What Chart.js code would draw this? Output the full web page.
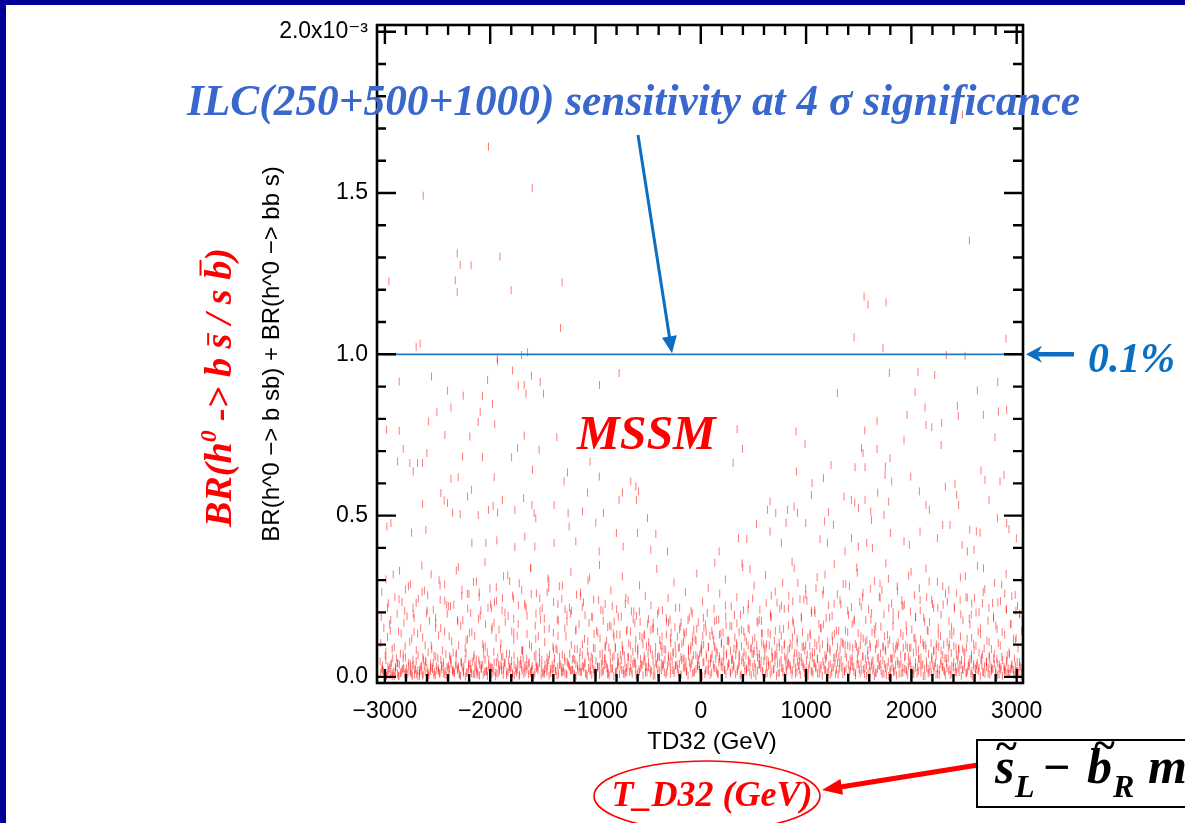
<!DOCTYPE html>
<html><head><meta charset="utf-8">
<script src="https://cdn.jsdelivr.net/npm/chart.js@4.4.0/dist/chart.umd.min.js"></script>
<style>
html,body{margin:0;padding:0;background:#fff;overflow:hidden}
#c{position:absolute;left:0;top:0}
</style></head><body>
<canvas id="c" width="1185" height="823"></canvas>
<script>
// ---------------- DATA (TD32 in GeV, BR in units of 1e-3) ----------------
const tailTD = [-2016,-2636,-1601,-2313,-2285,-2181,-1908,-2962,-2332,-2313,-1801,-1317,-1332,-2703,-2665,-1645,-1703,-1934,2551,1551,1589,1759,1456,2899,1731,2332,2510,2485];
const tailBR = [1.644,1.492,1.515,1.313,1.277,1.276,1.303,1.226,1.229,1.194,1.199,1.223,1.082,1.023,1.033,1.007,0.998,0.987,1.353,1.179,1.154,1.161,1.053,1.048,1.019,0.998,0.995,1.743];

const leftSparseTD = [-1930,-1788,-1608,-776,-2557,-2864,-2025,-1734,-1677,-1525,-962,-2405,-2256,-2073,-1494,-1660,-2373,-1978,-2506,-2095,-2585,-2114,-2984,-2864,-2430,-2193,-1677,-1956,-1367,-2826,-1740,-1535,-2601,-2262,-2073,-1797,-2880,-2763,-2690,-2642,-2731,-1051,-964,-1962,-1598,-2373,-2304,-1298,-1266,-665,-617,-592,-611,-2468,-2437,-2405,-2215,-2177,-2642,-2357,-2285,-2114,-2016,-1972,-1930,-1883,-1766,-1683,-1604,-1583,-1567,-1393,-1260,-1123,-1076,-997,-924,-776,-744,-506,-1250,-2981,-2943,-2611,-2747,-2174,-2041,-1937,-1766,-1671,-1576,-1393,-1187,-965,-801,-601,-427,-738,-475,-316];
const leftSparseBR = [.978,.950,.934,.942,.931,.916,.921,.903,.905,.914,.905,.887,.872,.872,.878,.878,.835,.847,.820,.821,.792,.790,.766,.763,.750,.745,.748,.783,.743,.707,.709,.704,.694,.683,.681,.681,.668,.663,.663,.663,.637,.668,.621,.619,.642,.614,.619,.606,.634,.606,.590,.575,.549,.570,.547,.539,.559,.580,.536,.509,.505,.502,.518,.530,.509,.549,.518,.554,.533,.508,.492,.533,.508,.513,.571,.478,.508,.549,.571,.492,.466,.466,.477,.456,.447,.415,.415,.423,.402,.435,.404,.415,.420,.389,.446,.446,.443,.404,.394,.389];

const rightSparseTD = [1791,2063,2222,2820,1298,2035,2627,2130,2437,2446,2826,2905,1959,2684,1674,2139,2193,2288,345,905,1557,2794,1930,990,1526,1541,1674,2282,396,307,1797,1237,1465,1560,1753,1750,908,1165,1813,1994,2661,2699,2842,2880,1057,2323,2414,2430,2076,1680,1361,1431,1462,1560,1785,2139,2171,2449,2737,658,633,712,823,886,918,997,1051,1174,1212,1260,1497,1614,1621,1740,529,658,810,2298,2367,2554,2617,2652,2817,2905,2927,2082,1801,358,437,766,1133,1203,1431,1497,1576,1630,1930,1981,2247,2481,2997,174,133,867,1370,2532,2595,392,468];
const rightSparseBR = [.942,.945,.936,.914,.880,.882,.888,.835,.840,.809,.823,.828,.812,.812,.794,.781,.774,.787,.768,.761,.764,.743,.733,.722,.709,.694,.707,.719,.707,.663,.678,.657,.650,.650,.652,.626,.637,.616,.606,.621,.640,.611,.606,.626,.601,.590,.598,.564,.575,.571,.559,.549,.540,.549,.543,.533,.518,.533,.549,.544,.518,.508,.518,.528,.509,.477,.564,.482,.511,.471,.523,.513,.487,.502,.474,.451,.477,.471,.471,.456,.451,.447,.492,.477,.458,.451,.446,.430,.427,.416,.427,.416,.430,.404,.415,.399,.420,.409,.430,.409,.430,.389,.354,.357,.389,.389,.394,.352,.334];

const bandLowTD = [
-3040,-3022,-3005,-2991,-2968,-2950,-2937,-2915,-2898,-2880,
-2862,-2845,-2826,-2810,-2795,-2772,-2756,-2741,-2720,-2703,
-2688,-2671,-2650,-2633,-2618,-2600,-2583,-2566,-2548,-2530,
-2512,-2497,-2480,-2461,-2445,-2428,-2410,-2392,-2377,-2359,
-2341,-2325,-2307,-2290,-2273,-2256,-2238,-2222,-2204,-2187,
-2170,-2151,-2135,-2118,-2100,-2084,-2066,-2049,-2031,-2014,
-1997,-1980,-1962,-1946,-1928,-1911,-1893,-1876,-1860,-1842,
-1825,-1808,-1790,-1773,-1755,-1739,-1721,-1704,-1687,-1669,
-1652,-1635,-1617,-1600,-1583,-1566,-1548,-1531,-1514,-1497,
-1480,-1462,-1445,-1428,-1410,-1393,-1376,-1358,-1341,-1324,
-1307,-1290,-1272,-1255,-1238,-1220,-1203,-1186,-1169,-1151,
-1134,-1117,-1100,-1082,-1065,-1048,-1031,-1013,-996,-979,
-962,-944,-927,-910,-893,-875,-858,-841,-824,-806,
-789,-772,-755,-737,-720,-703,-686,-668,-651,-634,
-617,-599,-582,-565,-548,-530,-513,-496,-479,-461,
-444,-427,-410,-392,-375,-358,-341,-323,-306,-289,
-272,-254,-237,-220,-203,-185,-168,-151,-134,-116,
-99,-82,-65,-47,-30,-13,4,21,38,56,
73,90,107,125,142,159,176,194,211,228,
245,263,280,297,314,332,349,366,383,401,
418,435,452,470,487,504,521,539,556,573,
590,608,625,642,659,677,694,711,728,746,
763,780,797,815,832,849,866,884,901,918,
935,953,970,987,1004,1022,1039,1056,1073,1091,
1108,1125,1142,1160,1177,1194,1211,1229,1246,1263,
1280,1298,1315,1332,1349,1367,1384,1401,1418,1436,
1453,1470,1487,1505,1522,1539,1556,1574,1591,1608,
1625,1643,1660,1677,1694,1712,1729,1746,1763,1781,
1798,1815,1832,1850,1867,1884,1901,1919,1936,1953,
1970,1988,2005,2022,2039,2057,2074,2091,2108,2126,
2143,2160,2177,2195,2212,2229,2246,2264,2281,2298,
2315,2333,2350,2367,2384,2402,2419,2436,2453,2471,
2488,2505,2522,2540,2557,2574,2591,2609,2626,2643,
2660,2678,2695,2712,2729,2747,2764,2781,2798,2816,
2833,2850,2867,2885,2902,2919,2936,2954,2971,2988,
3005,3022,3040,-2985,-2930,-2870,-2800,-2740,-2670,-2590];
const bandLowBR = [
.012,.035,.008,.052,.021,.006,.043,.017,.029,.010,
.038,.015,.057,.009,.026,.044,.013,.031,.007,.049,
.020,.011,.036,.054,.016,.027,.005,.041,.023,.014,
.033,.058,.010,.024,.046,.018,.030,.008,.051,.022,
.013,.039,.027,.006,.044,.019,.055,.012,.034,.024,
.047,.009,.031,.016,.040,.025,.007,.053,.019,.036,
.011,.028,.045,.014,.060,.022,.033,.006,.042,.017,
.050,.026,.010,.037,.019,.048,.008,.030,.055,.015,
.023,.041,.012,.034,.006,.046,.021,.057,.029,.010,
.038,.016,.052,.025,.009,.043,.018,.031,.062,.013,
.027,.048,.007,.036,.020,.054,.011,.040,.024,.058,
.015,.032,.045,.009,.063,.022,.038,.013,.050,.028,
.006,.041,.019,.056,.030,.012,.047,.025,.065,.017,
.036,.008,.052,.021,.043,.014,.060,.029,.010,.049,
.024,.067,.016,.039,.005,.055,.031,.046,.012,.070,
.027,.044,.009,.061,.020,.037,.053,.014,.066,.032,
.048,.011,.072,.025,.040,.007,.058,.034,.019,.064,
.029,.051,.013,.068,.036,.022,.075,.045,.009,.060,
.018,.041,.070,.027,.055,.011,.064,.033,.048,.021,
.073,.039,.015,.058,.030,.067,.024,.046,.008,.062,
.035,.019,.054,.043,.071,.012,.028,.060,.037,.050,
.016,.065,.031,.047,.009,.058,.024,.070,.040,.013,
.052,.027,.063,.019,.044,.034,.007,.057,.030,.046,
.021,.061,.038,.012,.050,.026,.066,.017,.042,.031,
.055,.010,.036,.048,.022,.063,.014,.040,.028,.058,
.009,.044,.025,.053,.033,.016,.060,.038,.020,.049,
.031,.012,.055,.023,.041,.062,.008,.035,.050,.018,
.045,.027,.011,.058,.034,.019,.052,.039,.006,.047,
.024,.056,.015,.037,.049,.010,.042,.028,.060,.017,
.033,.051,.021,.008,.045,.030,.057,.013,.039,.025,
.048,.011,.036,.054,.019,.043,.027,.006,.050,.032,
.016,.041,.058,.024,.009,.046,.030,.053,.014,.037,
.022,.049,.012,.035,.055,.018,.040,.007,.044,.028,
.051,.015,.033,.047,.010,.038,.025,.056,.019,.042,
.008,.030,.052,.017,.045,.026,.011,.040,.021,.034,
.046,.014,.029,.003,.002,.004,.001,.003,.002,.004];

const bandLow2TD = [
-3031,-3001,-2971,-2941,-2911,-2881,-2851,-2821,-2791,-2761,
-2731,-2701,-2671,-2641,-2611,-2581,-2551,-2521,-2491,-2461,
-2431,-2401,-2371,-2341,-2311,-2281,-2251,-2221,-2191,-2161,
-2131,-2101,-2071,-2041,-2011,-1981,-1951,-1921,-1891,-1861,
-1831,-1801,-1771,-1741,-1711,-1681,-1651,-1621,-1591,-1561,
-1531,-1501,-1471,-1441,-1411,-1381,-1351,-1321,-1291,-1261,
-1231,-1201,-1171,-1141,-1111,-1081,-1051,-1021,-991,-961,
-931,-901,-871,-841,-811,-781,-751,-721,-691,-661,
-631,-601,-571,-541,-511,-481,-451,-421,-391,-361,
-331,-301,-271,-241,-211,-181,-151,-121,-91,-61,
-31,-1,29,59,89,119,149,179,209,239,
269,299,329,359,389,419,449,479,509,539,
569,599,629,659,689,719,749,779,809,839,
869,899,929,959,989,1019,1049,1079,1109,1139,
1169,1199,1229,1259,1289,1319,1349,1379,1409,1439,
1469,1499,1529,1559,1589,1619,1649,1679,1709,1739,
1769,1799,1829,1859,1889,1919,1949,1979,2009,2039,
2069,2099,2129,2159,2189,2219,2249,2279,2309,2339,
2369,2399,2429,2459,2489,2519,2549,2579,2609,2639,
2669,2699,2729,2759,2789,2819,2849,2879,2909,2939,
2969,2999,3029,3049];
const bandLow2BR = [
.025,.004,.032,.016,.002,.041,.011,.027,.006,.019,
.037,.009,.022,.003,.044,.014,.030,.005,.018,.035,
.007,.026,.040,.012,.021,.003,.033,.015,.042,.008,
.024,.004,.038,.017,.029,.010,.002,.036,.020,.045,
.013,.031,.005,.023,.040,.009,.034,.018,.001,.027,
.043,.014,.026,.004,.037,.019,.008,.030,.012,.041,
.021,.006,.034,.016,.028,.003,.045,.024,.010,.032,
.017,.039,.004,.027,.013,.046,.022,.008,.035,.019,
.041,.011,.029,.048,.015,.024,.003,.038,.018,.031,
.007,.044,.021,.036,.013,.052,.027,.004,.040,.017,
.033,.012,.047,.024,.006,.038,.019,.055,.029,.010,
.043,.022,.008,.035,.051,.016,.030,.005,.040,.020,
.028,.049,.012,.037,.023,.004,.044,.015,.031,.039,
.020,.009,.034,.046,.027,.003,.018,.041,.011,.025,
.036,.014,.006,.030,.021,.042,.008,.026,.017,.033,
.004,.039,.019,.028,.012,.035,.002,.024,.040,.010,
.031,.016,.026,.005,.037,.013,.022,.043,.008,.029,
.018,.035,.003,.024,.014,.032,.009,.040,.020,.027,
.006,.030,.015,.038,.023,.011,.033,.002,.026,.019,
.036,.009,.028,.017,.041,.005,.022,.031,.013,.025,
.007,.019,.034,.011];

const bandLow3TD = [
-3045,-3021,-2997,-2973,-2949,-2925,-2901,-2877,-2853,-2829,
-2805,-2781,-2757,-2733,-2709,-2685,-2661,-2637,-2613,-2589,
-2565,-2541,-2517,-2493,-2469,-2445,-2421,-2397,-2373,-2349,
-2325,-2301,-2277,-2253,-2229,-2205,-2181,-2157,-2133,-2109,
-2085,-2061,-2037,-2013,-1989,-1965,-1941,-1917,-1893,-1869,
-1845,-1821,-1797,-1773,-1749,-1725,-1701,-1677,-1653,-1629,
-1605,-1581,-1557,-1533,-1509,-1485,-1461,-1437,-1413,-1389,
-1365,-1341,-1317,-1293,-1269,-1245,-1221,-1197,-1173,-1149,
-1125,-1101,-1077,-1053,-1029,-1005,-981,-957,-933,-909,
-885,-861,-837,-813,-789,-765,-741,-717,-693,-669,
-645,-621,-597,-573,-549,-525,-501,-477,-453,-429,
-405,-381,-357,-333,-309,-285,-261,-237,-213,-189,
-165,-141,-117,-93,-69,-45,-21,3,27,51,
75,99,123,147,171,195,219,243,267,291,
315,339,363,387,411,435,459,483,507,531,
555,579,603,627,651,675,699,723,747,771,
795,819,843,867,891,915,939,963,987,1011,
1035,1059,1083,1107,1131,1155,1179,1203,1227,1251,
1275,1299,1323,1347,1371,1395,1419,1443,1467,1491,
1515,1539,1563,1587,1611,1635,1659,1683,1707,1731,
1755,1779,1803,1827,1851,1875,1899,1923,1947,1971,
1995,2019,2043,2067,2091,2115,2139,2163,2187,2211,
2235,2259,2283,2307,2331,2355,2379,2403,2427,2451,
2475,2499,2523,2547,2571,2595,2619,2643,2667,2691,
2715,2739,2763,2787,2811,2835,2859,2883,2907,2931,
2955,2979,3003,3027,3051];
const bandLow3BR = [
.048,.021,.066,.009,.037,.058,.015,.044,.072,.026,
.061,.012,.039,.054,.023,.067,.031,.008,.049,.076,
.018,.043,.063,.027,.052,.011,.070,.035,.057,.020,
.065,.032,.047,.013,.074,.040,.024,.059,.009,.051,
.036,.069,.017,.054,.028,.078,.045,.013,.062,.033,
.071,.024,.050,.066,.014,.038,.081,.029,.056,.045,
.019,.064,.034,.077,.052,.010,.043,.069,.025,.058,
.083,.037,.015,.061,.046,.072,.021,.053,.086,.030,
.067,.041,.079,.018,.057,.088,.033,.070,.049,.091,
.026,.075,.059,.094,.039,.068,.084,.016,.062,.097,
.078,.043,.089,.055,.101,.031,.072,.086,.050,.093,
.064,.098,.041,.083,.057,.105,.073,.035,.090,.061,
.108,.047,.081,.096,.066,.112,.054,.087,.100,.070,
.093,.058,.114,.079,.045,.102,.085,.067,.109,.052,
.088,.104,.063,.095,.076,.110,.049,.091,.081,.099,
.071,.106,.087,.053,.097,.078,.113,.066,.092,.084,
.103,.059,.089,.098,.074,.107,.048,.094,.082,.069,
.096,.077,.105,.057,.088,.101,.068,.091,.079,.110,
.062,.093,.085,.106,.071,.097,.055,.089,.102,.076,
.099,.064,.108,.083,.092,.051,.087,.104,.073,.095,
.080,.101,.058,.094,.086,.107,.069,.090,.098,.062,
.091,.075,.103,.084,.060,.097,.088,.071,.105,.079,
.065,.093,.081,.100,.057,.089,.074,.096,.068,.085,
.052,.078,.091,.044,.069,.083,.036,.075,.060,.088,
.047,.066,.029,.071,.055,.038,.062,.024,.050,.070,
.033,.057,.018,.045,.028];

const bandLow4TD = [
-3016,-2987,-2955,-2926,-2897,-2866,-2836,-2805,-2777,-2746,
-2716,-2687,-2655,-2626,-2596,-2566,-2535,-2506,-2477,-2446,
-2416,-2385,-2357,-2326,-2295,-2266,-2236,-2205,-2177,-2146,
-2116,-2086,-2055,-2026,-1997,-1966,-1935,-1906,-1876,-1845,
-1816,-1787,-1756,-1725,-1696,-1667,-1636,-1606,-1575,-1546,
-1516,-1487,-1455,-1426,-1396,-1366,-1335,-1306,-1277,-1246,
-1216,-1185,-1157,-1126,-1095,-1066,-1036,-1005,-977,-946,
-916,-886,-855,-826,-797,-766,-735,-706,-676,-645,
-616,-587,-556,-525,-496,-467,-436,-406,-375,-346,
-316,-287,-255,-226,-196,-166,-135,-106,-77,-46,
-16,14,45,74,103,134,165,194,224,255,
284,313,345,374,404,434,465,494,523,554,
584,615,643,674,704,734,765,794,823,854,
884,913,945,974,1004,1034,1065,1094,1123,1154,
1184,1215,1243,1274,1304,1334,1365,1394,1423,1454,
1484,1513,1545,1574,1604,1634,1665,1694,1723,1754,
1784,1815,1843,1874,1904,1934,1965,1994,2023,2054,
2084,2113,2145,2174,2204,2234,2265,2294,2323,2354,
2384,2415,2443,2474,2504,2534,2565,2594,2623,2654,
2684,2713,2745,2774,2804,2834,2865,2894,2923,2954,
2984,3013,3043];
const bandLow4BR = [
.018,.006,.027,.011,.031,.003,.022,.014,.035,.008,
.025,.002,.019,.033,.010,.028,.005,.021,.013,.032,
.004,.024,.016,.036,.009,.029,.001,.020,.012,.034,
.007,.026,.015,.003,.030,.018,.010,.037,.023,.006,
.032,.011,.027,.002,.019,.035,.008,.024,.014,.029,
.005,.021,.033,.012,.026,.004,.038,.017,.009,.030,
.022,.003,.016,.034,.011,.027,.006,.020,.031,.013,
.036,.008,.025,.002,.018,.032,.010,.028,.015,.040,
.005,.023,.037,.012,.030,.019,.004,.026,.042,.014,
.033,.009,.021,.038,.006,.029,.016,.044,.011,.024,
.035,.003,.019,.041,.013,.027,.008,.046,.022,.032,
.010,.037,.017,.005,.043,.025,.014,.031,.002,.039,
.020,.008,.034,.016,.045,.012,.028,.004,.036,.023,
.041,.015,.006,.030,.019,.038,.011,.026,.033,.003,
.022,.035,.013,.042,.007,.029,.018,.001,.032,.016,
.039,.010,.024,.004,.034,.020,.014,.037,.009,.027,
.003,.031,.017,.040,.012,.025,.006,.033,.021,.011,
.036,.002,.028,.015,.038,.008,.023,.030,.005,.019,
.034,.013,.026,.003,.032,.017,.009,.029,.022,.001,
.014,.031,.007,.024,.012,.027,.004,.019,.010,.025,
.006,.016,.003];

const bandMidTD = [
-3040,-2990,-2955,-2912,-2870,-2826,-2790,-2745,-2702,-2660,
-2618,-2577,-2533,-2490,-2452,-2408,-2366,-2322,-2280,-2238,
-2196,-2153,-2111,-2070,-2028,-1985,-1944,-1902,-1860,-1817,
-1776,-1734,-1691,-1650,-1608,-1566,-1523,-1482,-1440,-1398,
-1356,-1314,-1271,-1230,-1188,-1146,-1104,-1061,-1020,-978,
-936,-894,-852,-810,-768,-726,-684,-642,-600,-558,
-516,-474,-432,-390,-348,-306,-264,-222,-180,-138,
-96,-54,-12,30,72,114,156,198,240,282,
324,366,408,450,492,534,576,618,660,702,
744,786,828,870,912,954,996,1038,1080,1122,
1164,1206,1248,1290,1332,1374,1416,1458,1500,1542,
1584,1626,1668,1710,1752,1794,1836,1878,1920,1962,
2004,2046,2088,2130,2172,2214,2256,2298,2340,2382,
2424,2466,2508,2550,2592,2634,2676,2718,2760,2802,
2844,2886,2928,2970,3012,3045];
const bandMidBR = [
.105,.078,.163,.092,.141,.070,.188,.118,.083,.152,
.097,.174,.066,.129,.082,.196,.110,.074,.158,.089,
.137,.068,.181,.101,.076,.146,.121,.087,.199,.072,
.115,.164,.080,.133,.094,.071,.178,.108,.150,.085,
.127,.069,.192,.099,.143,.077,.118,.167,.090,.136,
.073,.112,.155,.088,.131,.067,.104,.178,.082,.121,
.096,.145,.071,.114,.086,.168,.077,.125,.103,.139,
.084,.117,.069,.152,.093,.129,.075,.108,.160,.081,
.122,.070,.141,.097,.113,.079,.173,.090,.132,.066,
.106,.149,.083,.124,.072,.187,.098,.135,.076,.115,
.162,.087,.128,.071,.109,.144,.093,.178,.081,.119,
.068,.138,.101,.156,.085,.114,.072,.193,.127,.090,
.147,.078,.116,.099,.170,.083,.132,.067,.108,.154,
.091,.125,.074,.181,.103,.140,.069,.112,.086,.159,
.097,.131,.076,.118,.088,.142];

const bandMid2TD = [
-2975,-2890,-2808,-2723,-2640,-2555,-2470,-2387,-2300,-2215,
-2132,-2048,-1963,-1880,-1795,-1710,-1627,-1543,-1459,-1375,
-1291,-1208,-1124,-1040,-957,-913,-873,-831,-789,-747,
-705,-663,-621,-579,-537,-495,-453,-411,-369,-327,
-285,-243,-201,-159,-117,-75,-33,9,51,93,
135,177,219,261,303,345,387,429,471,513,
555,597,639,681,723,765,807,849,891,933,
975,1017,1059,1101,1143,1185,1227,1269,1311,1353,
1395,1437,1479,1521,1563,1605,1647,1689,1731,1773,
1815,1857,1899,1941,1983,2025,2067,2109,2151,2193,
2235,2277,2319,2361,2403,2445,2487,2529,2571,2613,
2655,2740,2825,2910,2995];
const bandMid2BR = [
.124,.058,.095,.140,.061,.086,.151,.064,.098,.118,
.055,.094,.168,.062,.141,.053,.100,.126,.060,.089,
.150,.057,.101,.063,.119,.058,.091,.134,.062,.099,
.142,.056,.089,.127,.064,.108,.152,.059,.095,.131,
.063,.097,.147,.055,.088,.124,.060,.099,.139,.057,
.090,.131,.062,.114,.053,.096,.146,.066,.087,.121,
.058,.100,.137,.061,.092,.128,.054,.104,.143,.065,
.093,.122,.059,.097,.150,.056,.088,.133,.063,.101,
.139,.061,.094,.125,.055,.102,.148,.060,.091,.130,
.057,.098,.136,.064,.089,.121,.056,.106,.145,.062,
.092,.127,.058,.100,.141,.063,.087,.118,.054,.096,
.132,.061,.105,.067,.120];

const bandMid3TD = [
-3010,-2968,-2931,-2884,-2846,-2805,-2764,-2722,-2683,-2641,
-2598,-2560,-2517,-2476,-2433,-2395,-2352,-2311,-2270,-2229,
-2186,-2147,-2104,-2064,-2021,-1982,-1939,-1898,-1857,-1815,
-1775,-1732,-1693,-1650,-1610,-1567,-1527,-1486,-1445,-1404,
-1362,-1320,-1280,-1238,-1197,-1156,-1114,-1073,-1031,-990,
-949,-907,-866,-824,-783,-742,-700,-659,-617,-576,
-535,-493,-452,-410,-369,-328,-286,-245,-203,-162,
-121,-79,-38,4,45,87,128,170,211,252,
294,335,377,418,460,501,542,584,625,667,
708,750,791,832,874,915,957,998,1040,1081,
1122,1164,1205,1247,1288,1330,1371,1412,1454,1495,
1537,1578,1620,1661,1702,1744,1785,1827,1868,1910,
1951,1992,2034,2075,2117,2158,2200,2241,2282,2324,
2365,2407,2448,2490,2531,2572,2614,2655,2697,2738,
2780,2821,2862,2904,2945,2987,3028];
const bandMid3BR = [
.152,.228,.087,.196,.134,.271,.109,.183,.243,.122,
.205,.097,.167,.284,.141,.219,.075,.176,.251,.113,
.198,.128,.262,.090,.214,.155,.236,.104,.171,.297,
.137,.222,.083,.189,.257,.118,.204,.147,.276,.093,
.178,.242,.125,.196,.086,.163,.231,.110,.185,.143,
.208,.098,.159,.124,.187,.079,.146,.203,.115,.171,
.132,.094,.168,.141,.077,.183,.119,.154,.091,.137,
.176,.108,.149,.082,.163,.127,.095,.178,.138,.112,
.157,.086,.193,.123,.147,.071,.168,.135,.101,.186,
.143,.212,.097,.159,.234,.118,.181,.254,.129,.207,
.164,.268,.109,.189,.143,.225,.098,.281,.172,.136,
.247,.114,.198,.157,.289,.126,.213,.176,.094,.238,
.161,.203,.119,.275,.184,.142,.226,.101,.193,.258,
.132,.217,.088,.175,.246,.121,.199,.152,.272,.108,
.187,.231,.139,.208,.163,.112,.194];

const bandUpTD = [
-3030,-2975,-2921,-2866,-2812,-2758,-2703,-2649,-2594,-2540,
-2486,-2431,-2377,-2322,-2268,-2214,-2159,-2105,-2050,-1996,
-1942,-1887,-1833,-1778,-1724,-1670,-1615,-1561,-1506,-1452,
-1398,-1343,-1289,-1234,-1180,-1126,-1071,-1017,-962,-908,
-854,-799,-745,-690,-636,-582,-527,-473,-418,-364,
-310,-255,-201,-146,-92,-38,17,71,126,180,
234,289,343,398,452,506,561,615,670,724,
778,833,887,942,996,1050,1105,1159,1214,1268,
1322,1377,1431,1486,1540,1594,1649,1703,1758,1812,
1866,1921,1975,2030,2084,2138,2193,2247,2302,2356,
2410,2465,2519,2574,2628,2682,2737,2791,2846,2900,
2954,3008,3050,
-2944,-2838,-2731,-2625,-2519,-2413,-2307,-2201,-2095,-1989,
-1883,-1777,-1671,-1565,-1459,-1353,-1247,-1141,-1035,-929,
-823,-717,-611,-505,-399,-293,-187,-81,25,131,
237,343,449,555,661,767,873,979,1085,1191,
1297,1403,1509,1615,1721,1827,1933,2039,2145,2251,
2357,2463,2569,2675,2781,2887,2993];
const bandUpBR = [
.262,.214,.318,.241,.205,.287,.229,.345,.253,.208,
.301,.236,.219,.330,.270,.212,.294,.248,.356,.224,
.278,.206,.315,.243,.290,.221,.338,.259,.213,.305,
.232,.281,.209,.326,.255,.217,.299,.240,.347,.226,
.268,.210,.311,.238,.203,.284,.251,.222,.335,.207,
.244,.293,.215,.262,.204,.321,.233,.276,.211,.258,
.302,.219,.247,.340,.226,.283,.208,.316,.252,.230,
.292,.213,.337,.241,.274,.205,.309,.256,.222,.349,
.237,.288,.216,.323,.261,.209,.297,.245,.352,.228,
.281,.218,.314,.253,.206,.336,.239,.295,.224,.270,
.211,.308,.246,.227,.344,.263,.214,.291,.235,.319,
.250,.220,.298,
.176,.232,.195,.268,.184,.223,.171,.257,.190,.213,
.244,.180,.227,.196,.262,.174,.215,.250,.187,.205,
.171,.226,.189,.165,.204,.178,.169,.197,.183,.172,
.188,.166,.209,.177,.195,.221,.174,.240,.198,.183,
.256,.192,.233,.177,.269,.201,.224,.186,.247,.214,
.172,.238,.193,.229,.181,.258,.205];

const bandUp2TD = [
-3035,-2990,-2948,-2905,-2861,-2819,-2776,-2733,-2689,-2647,
-2604,-2561,-2518,-2475,-2432,-2389,-2346,-2303,-2260,-2217,
-2174,-2131,-2088,-2045,-2002,-1959,-1916,-1873,-1830,-1787,
-1744,-1701,-1658,-1615,-1572,-1529,-1486,-1443,-1400,-1357,
-1314,-1271,-1228,-1185,-1142,-1099,-1056,-1013,-970,-927,
-884,-841,-798,-755,-712,-669,-626,-583,-540,-497,
-454,-411,-368,-325,-282,-239,-196,-153,-110,-67,
-24,19,62,105,148,191,234,277,320,363,
406,449,492,535,578,621,664,707,750,793,
836,879,922,965,1008,1051,1094,1137,1180,1223,
1266,1309,1352,1395,1438,1481,1524,1567,1610,1653,
1696,1739,1782,1825,1868,1911,1954,1997,2040,2083,
2126,2169,2212,2255,2298,2341,2384,2427,2470,2513,
2556,2599,2642,2685,2728,2771,2814,2857,2900,2943,
2986,3029];
const bandUp2BR = [
.186,.302,.143,.247,.329,.168,.281,.215,.134,.263,
.197,.318,.152,.239,.287,.126,.224,.341,.176,.258,
.139,.296,.207,.163,.274,.231,.147,.312,.189,.252,
.128,.269,.213,.336,.159,.244,.181,.298,.137,.226,
.283,.171,.205,.147,.262,.191,.308,.133,.238,.174,
.154,.219,.132,.187,.245,.141,.166,.203,.128,.179,
.148,.196,.125,.172,.138,.214,.155,.131,.183,.146,
.169,.127,.198,.143,.176,.134,.221,.158,.192,.139,
.207,.151,.243,.173,.135,.229,.186,.264,.148,.211,
.252,.167,.291,.138,.236,.198,.275,.152,.317,.184,
.227,.143,.288,.205,.164,.339,.218,.176,.273,.132,
.249,.193,.304,.156,.267,.222,.141,.326,.185,.238,
.171,.296,.214,.153,.281,.233,.129,.259,.194,.312,
.162,.245,.201,.337,.174,.229,.148,.286,.211,.163,
.254,.196];

// Reference line and axes
const sensitivityBR = 1.0;            // 0.1 % line, in units of 1e-3
const sensitivityTD = [-3000, 3060];  // extent of the drawn line
const xTickValues = [-3000,-2000,-1000,0,1000,2000,3000];
const xTickLabels = ['\u22123000','\u22122000','\u22121000','0','1000','2000','3000'];
const yTickValues = [0,0.5,1.0,1.5,2.0];
const yTickLabels = ['0.0','0.5','1.0','1.5','2.0x10\u207B\u00B3'];
const xMinorStep = 200, yMinorStep = 0.1;

// ---------------- build ----------------
function zip(xs, ys){ const out=[]; for(let i=0;i<Math.min(xs.length,ys.length);i++) out.push({x:xs[i],y:ys[i]}); return out; }
const scatterData = [].concat(
  zip(tailTD,tailBR), zip(leftSparseTD,leftSparseBR), zip(rightSparseTD,rightSparseBR),
  zip(bandUpTD,bandUpBR), zip(bandUp2TD,bandUp2BR),
  zip(bandMidTD,bandMidBR), zip(bandMid2TD,bandMid2BR), zip(bandMid3TD,bandMid3BR),
  zip(bandLowTD,bandLowBR), zip(bandLow2TD,bandLow2BR), zip(bandLow3TD,bandLow3BR), zip(bandLow4TD,bandLow4BR));

const SERIF = '"Liberation Serif", "Times New Roman", serif';
const SANS = '"Liberation Sans", Arial, "DejaVu Sans", sans-serif';
const BLUE = '#0a6fc2';
const PT = 'rgba(255,0,0,0.52)';

function fitFont(ctx, style, text, target, base){
  ctx.font = `${style} ${base}px ${SERIF}`;
  const w = ctx.measureText(text).width;
  return base * target / w;
}
function arrow(ctx, x1,y1,x2,y2,color,lw,hl,hw,notch){
  const a = Math.atan2(y2-y1,x2-x1);
  ctx.save();
  ctx.strokeStyle=color; ctx.fillStyle=color; ctx.lineWidth=lw; ctx.lineCap='butt';
  ctx.beginPath(); ctx.moveTo(x1,y1);
  ctx.lineTo(x2-Math.cos(a)*hl*0.7, y2-Math.sin(a)*hl*0.7); ctx.stroke();
  ctx.translate(x2,y2); ctx.rotate(a);
  ctx.beginPath(); ctx.moveTo(0,0); ctx.lineTo(-hl,-hw/2); ctx.lineTo(-hl*(1-notch),0); ctx.lineTo(-hl,hw/2); ctx.closePath(); ctx.fill();
  ctx.restore();
}

const framePlugin = {
  id:'frameTicks',
  afterDatasetsDraw(chart){
    const {ctx, chartArea:a, scales:{x, y}} = chart;
    ctx.save();
    ctx.strokeStyle='#000'; ctx.lineWidth=2.6;
    ctx.strokeRect(a.left, a.top, a.right-a.left, a.bottom-a.top);
    ctx.lineWidth=2.4;
    ctx.beginPath();
    for(let v=-3000; v<=3000+1e-6; v+=xMinorStep){
      const p = x.getPixelForValue(v);
      const major = Math.abs(v % 1000) < 1e-6;
      ctx.moveTo(p, a.bottom); ctx.lineTo(p, a.bottom-(major?14:9));
      ctx.moveTo(p, a.top); ctx.lineTo(p, a.top+(major?19:10));
    }
    for(let k=0; k<=20; k++){
      const v = k*yMinorStep;
      const p = y.getPixelForValue(v);
      const major = k%5===0;
      ctx.moveTo(a.left, p); ctx.lineTo(a.left+(major?19:9), p);
      ctx.moveTo(a.right, p); ctx.lineTo(a.right-(major?19:10), p);
    }
    ctx.stroke();
    ctx.restore();
  },
  afterDraw(chart){
    const {ctx, scales:{x, y}} = chart;
    const yLine = y.getPixelForValue(sensitivityBR);
    ctx.save();
    // navy slide border
    ctx.fillStyle='#000099';
    ctx.fillRect(0,0,1185,5); ctx.fillRect(0,0,6,823);

    // ILC text
    const ilc = 'ILC(250+500+1000) sensitivity at 4 \u03C3 significance';
    const fs = fitFont(ctx,'italic bold',ilc,893,40);
    ctx.font = `italic bold ${fs}px ${SERIF}`;
    ctx.fillStyle='#3a67cc'; ctx.textAlign='left'; ctx.textBaseline='alphabetic';
    ctx.fillText(ilc, 187, 115);
    arrow(ctx, 638,135, 672,yLine-1, BLUE, 3, 17, 15, 0);

    // 0.1% arrow + text
    arrow(ctx, 1074,yLine, 1026,yLine, BLUE, 4.5, 16, 17, 0.3);
    const fs3 = fitFont(ctx,'italic bold','0.1%',87,40);
    ctx.font = `italic bold ${fs3}px ${SERIF}`;
    ctx.fillStyle=BLUE; ctx.fillText('0.1%', 1088, 372);

    // MSSM
    ctx.font = `italic bold 48px ${SERIF}`;
    ctx.fillStyle='#ff0000'; ctx.fillText('MSSM', 577, 449);

    // red rotated label BR(h0 -> b s̄ / s b̄)
    ctx.save();
    ctx.translate(231, 527); ctx.rotate(-Math.PI/2);
    const parts = [['BR(h',1,0],['0',0.62,-14],[' -> b ',1,0],['s',1,0,'barS'],[' / s ',1,0],['b',1,0,'barB'],[')',1,0]];
    let base = 36, tot = 0;
    parts.forEach(p=>{ ctx.font=`italic bold ${base*p[1]}px ${SERIF}`; tot += ctx.measureText(p[0]).width; });
    const sc = 279/tot; base *= sc;
    let cx = 0;
    ctx.fillStyle='#ff0000'; ctx.strokeStyle='#ff0000'; ctx.lineWidth=2;
    parts.forEach(p=>{
      ctx.font=`italic bold ${base*p[1]}px ${SERIF}`;
      const w = ctx.measureText(p[0]).width;
      ctx.fillText(p[0], cx, p[2]*sc);
      if(p[3]){
        const hy = p[3]==='barS' ? -0.6*base : -0.8*base;
        ctx.beginPath(); ctx.moveTo(cx+0.22*w, hy); ctx.lineTo(cx+w*1.05, hy); ctx.stroke();
      }
      cx += w;
    });
    ctx.restore();

    // ellipse + T_D32 (GeV)
    ctx.strokeStyle='#ff0000'; ctx.lineWidth=1.6;
    ctx.beginPath(); ctx.ellipse(707, 796, 113, 35, 0, 0, Math.PI*2); ctx.stroke();
    const td = 'T_D32 (GeV)';
    const fs2 = fitFont(ctx,'italic bold',td,201,34);
    ctx.font = `italic bold ${fs2}px ${SERIF}`;
    ctx.fillStyle='#ff0000'; ctx.textAlign='center';
    ctx.fillText(td, 712, 806);
    arrow(ctx, 978,765, 822,790, '#ff0000', 5, 20, 16, 0);

    // black box with s̃_L − b̃_R m...
    ctx.strokeStyle='#000'; ctx.lineWidth=2;
    ctx.strokeRect(977, 740, 260, 67);
    ctx.fillStyle='#000'; ctx.textAlign='left';
    const big = `italic bold 50px ${SERIF}`, sub = `italic bold 32px ${SERIF}`;
    ctx.font=big; ctx.fillText('s', 995, 783);
    ctx.font=`bold 40px ${SERIF}`; ctx.fillText('~', 996, 759);
    ctx.font=sub; ctx.fillText('L', 1015, 797);
    ctx.font=`bold 48px ${SERIF}`; ctx.fillText('\u2212', 1043, 783);
    ctx.font=big; ctx.fillText('b', 1087, 783);
    ctx.font=`bold 40px ${SERIF}`; ctx.fillText('~', 1094, 758);
    ctx.font=sub; ctx.fillText('R', 1113, 797);
    ctx.font=big; ctx.fillText('m', 1148, 783);
    ctx.restore();
  }
};

new Chart(document.getElementById('c'), {
  type:'scatter',
  data:{datasets:[
    {label:'0.1%', data: sensitivityTD.map(v=>({x:v,y:sensitivityBR})), showLine:true,
     borderColor:'#1f78c8', borderWidth:1.8, pointRadius:0, order:0},
    {label:'MSSM', data: scatterData, pointStyle:'line', rotation:90, pointRadius:4,
     pointBorderWidth:1, borderColor:PT, pointBorderColor:PT,
     backgroundColor:PT, pointHoverRadius:4, order:1}
  ]},
  options:{
    responsive:false, animation:false, devicePixelRatio:1,
    events:[],
    layout:{padding:{left:250, top:25, right:162, bottom:65}},
    plugins:{legend:{display:false}, tooltip:{enabled:false}},
    scales:{
      x:{type:'linear', min:-3075, max:3060,
        afterBuildTicks(s){ s.ticks = xTickValues.map(v=>({value:v})); },
        afterFit(s){ s.height = 75; },
        grid:{display:false, drawTicks:false}, border:{display:false},
        ticks:{autoSkip:false, maxRotation:0, padding:15, color:'#000',
          font:{family:SANS, size:23},
          callback:(v)=>xTickLabels[xTickValues.indexOf(v)]},
        title:{display:true, text:'\u2003TD32 (GeV)', color:'#000', font:{family:SANS, size:24}, padding:{top:0,bottom:1}}
      },
      y:{type:'linear', min:-0.019, max:2.021,
        afterBuildTicks(s){ s.ticks = yTickValues.map(v=>({value:v})); },
        afterFit(s){ s.width = 127; },
        grid:{display:false, drawTicks:false}, border:{display:false},
        ticks:{autoSkip:false, padding:9, color:'#000', font:{family:SANS, size:23},
          callback:(v)=>yTickLabels[yTickValues.indexOf(v)]},
        title:{display:true, text:'BR(h^0 \u2212> b sb) + BR(h^0 \u2212> bb s)', color:'#000',
          font:{family:SANS, size:24}, padding:{top:8,bottom:0}}
      }
    }
  },
  plugins:[framePlugin]
});
</script>
</body></html>
